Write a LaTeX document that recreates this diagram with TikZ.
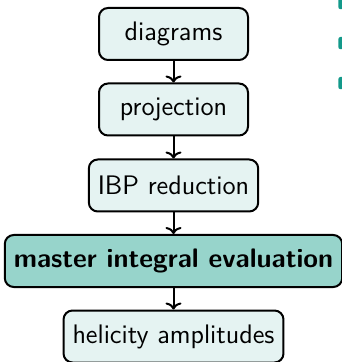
\documentclass[tikz,border=0pt]{standalone}
\usetikzlibrary{arrows.meta}
\definecolor{boxfill}{HTML}{E5F3F2}
\definecolor{mainfill}{HTML}{97D4CB}
\definecolor{teal}{HTML}{13998A}
\begin{document}
\begin{tikzpicture}[x=1pt,y=1pt,
  flowbox/.style={draw=black, line width=1pt, rounded corners=4.5pt, fill=boxfill,
    minimum height=26pt, minimum width=74.5pt, inner xsep=4.5pt,
    font=\sffamily\fontsize{13.4}{15}\selectfont},
  mainbox/.style={flowbox, fill=mainfill, font=\sffamily\bfseries\fontsize{13.4}{15}\selectfont},
  flowarrow/.style={draw=black, line width=1pt, -{To[length=3.5pt,width=8pt]}}]
\useasboundingbox (0,0) rectangle (170.5,-181);
\node[flowbox] (d) at (86.75,-17) {diagrams};
\node[flowbox] (p) at (86.75,-54.75) {projection};
\node[flowbox] (i) at (86.75,-92.75) {IBP reduction};
\node[mainbox] (m) at (86.75,-130.5) {master integral evaluation};
\node[flowbox] (h) at (86.75,-168.25) {helicity amplitudes};
\draw[flowarrow] (d) -- (p);
\draw[flowarrow] (p) -- (i);
\draw[flowarrow] (i) -- (m);
\draw[flowarrow] (m) -- (h);
\fill[teal, rounded corners=1pt] (169.2,2) rectangle (173,-4.6);
\fill[teal, rounded corners=1pt] (169.2,-18.5) rectangle (173,-24.6);
\fill[teal, rounded corners=1pt] (169.2,-38.5) rectangle (173,-44.6);
\end{tikzpicture}
\end{document}
